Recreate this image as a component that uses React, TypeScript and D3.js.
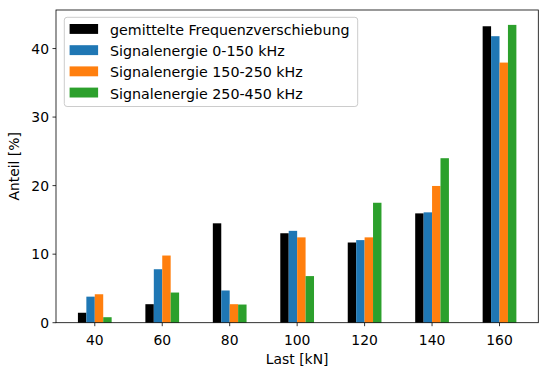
import React from "react";
import * as d3 from "d3";

const categories = [40, 60, 80, 100, 120, 140, 160];
const seriesNames = [
  "gemittelte Frequenzverschiebung",
  "Signalenergie 0-150 kHz",
  "Signalenergie 150-250 kHz",
  "Signalenergie 250-450 kHz",
];
const freqShift = [1.45, 2.7, 14.5, 13.05, 11.7, 15.95, 43.25];
const energy0_150 = [3.8, 7.8, 4.7, 13.4, 12.05, 16.1, 41.8];
const energy150_250 = [4.15, 9.8, 2.7, 12.45, 12.45, 19.95, 37.95];
const energy250_450 = [0.8, 4.4, 2.65, 6.8, 17.5, 24.0, 43.45];
const colors = ["#000000", "#1f77b4", "#ff7f0e", "#2ca02c"];
const yTicks = [0, 10, 20, 30, 40];

const series = [freqShift, energy0_150, energy150_250, energy250_450];
const barWidth = 2.5;
const offsets = [-5, -2.5, 0, 2.5];

const W = 550;
const H = 375;
const left = 56;
const right = 538.3;
const top = 10;
const bottom = 322.7;
const FONT = "DejaVu Sans, sans-serif";
const FS = 13.9;
const LFS = 14.25;

export default function App() {
  const xMin = categories[0] + offsets[0];
  const xMax = categories[categories.length - 1] + offsets[3] + barWidth;
  const xPad = (xMax - xMin) * 0.05;
  const x = d3.scaleLinear().domain([xMin - xPad, xMax + xPad]).range([left, right]);
  const yMaxData = d3.max(series.flat()) as number;
  const y = d3.scaleLinear().domain([0, yMaxData * 1.05]).range([bottom, top]);
  const bw = x(barWidth) - x(0);

  return (
    <svg width={W} height={H} style={{ position: "absolute", left: 0, top: 0 }} fontFamily={FONT}>
      <rect x={0} y={0} width={W} height={H} fill="#fff" />
      {series.map((vals, si) =>
        vals.map((v, ci) => (
          <rect
            key={`${si}-${ci}`}
            x={x(categories[ci] + offsets[si])}
            y={y(v)}
            width={bw}
            height={y(0) - y(v)}
            fill={colors[si]}
          />
        ))
      )}
      {/* axes frame */}
      <rect x={left} y={top} width={right - left} height={bottom - top} fill="none" stroke="#000" strokeWidth={0.8} />
      {/* y ticks */}
      {yTicks.map((t) => (
        <g key={t}>
          <line x1={left - 3.5} x2={left} y1={y(t)} y2={y(t)} stroke="#000" strokeWidth={0.8} />
          <text x={left - 7} y={y(t)} dy="0.36em" textAnchor="end" fontSize={FS} fill="#000">
            {t}
          </text>
        </g>
      ))}
      {/* x ticks */}
      {categories.map((c) => (
        <g key={c}>
          <line x1={x(c)} x2={x(c)} y1={bottom} y2={bottom + 3.5} stroke="#000" strokeWidth={0.8} />
          <text x={x(c)} y={345} textAnchor="middle" fontSize={FS} fill="#000">
            {c}
          </text>
        </g>
      ))}
      <text x={(left + right) / 2} y={364} textAnchor="middle" fontSize={FS} fill="#000">
        Last [kN]
      </text>
      <text
        transform={`translate(19, ${(top + bottom) / 2}) rotate(-90)`}
        textAnchor="middle"
        fontSize={FS}
        fill="#000"
      >
        Anteil [%]
      </text>
      {/* legend */}
      <rect x={64.3} y={17.3} width={293.4} height={89.2} rx={2.8} fill="#fff" fillOpacity={0.8} stroke="#cccccc" strokeWidth={1} />
      {seriesNames.map((name, i) => {
        const baseline = 35 + i * 21.2;
        return (
          <g key={name}>
            <rect x={69.6} y={baseline - 11} width={28.5} height={9.9} fill={colors[i]} />
            <text x={110} y={baseline} fontSize={LFS} fill="#000">
              {name}
            </text>
          </g>
        );
      })}
    </svg>
  );
}
